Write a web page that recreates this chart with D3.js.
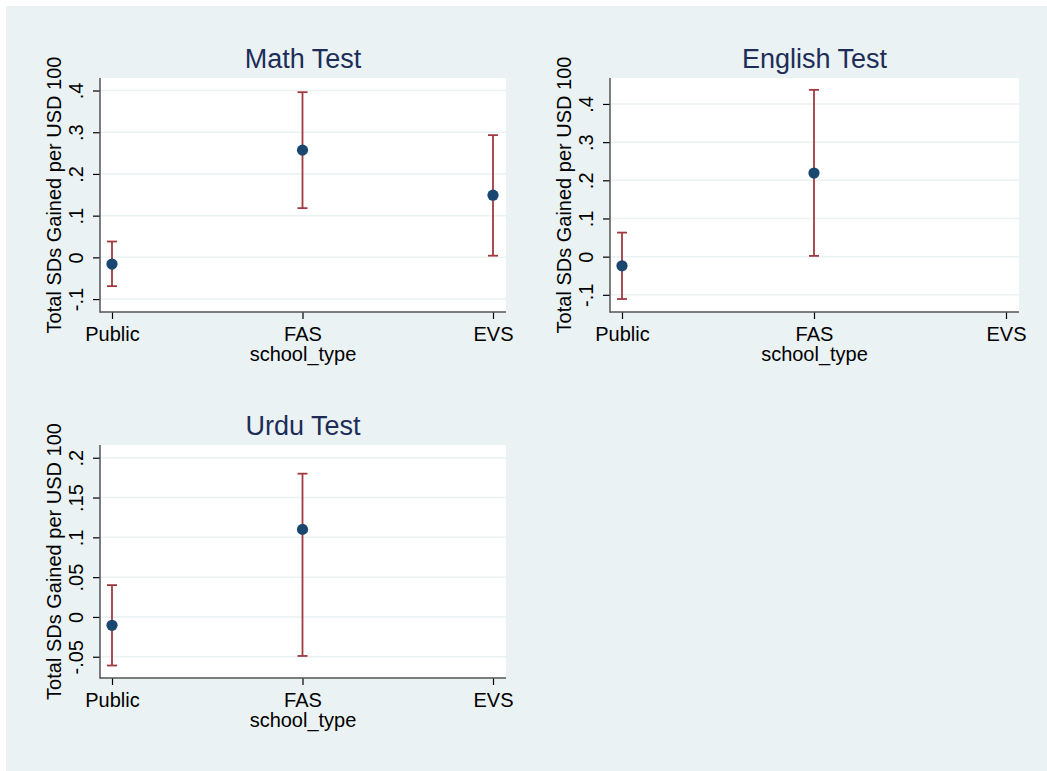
<!DOCTYPE html>
<html lang="en">
<meta charset="utf-8">
<style>
  body { margin: 0; background: #fff; }
  text { font-family: Arial, "Liberation Sans", Helvetica, sans-serif; }
</style>
<body>
<div id="my_dataviz"></div>

<script src="https://d3js.org/d3.v7.min.js" type="text/javascript"></script>

<script type="text/javascript">

// categories on the x axis
var schoolTypes = ["Public", "FAS", "EVS"]

// Math test: point estimate and 95% interval
var mathEst = [-0.016, 0.257, 0.149]
var mathLo  = [-0.069, 0.118, 0.004]
var mathHi  = [ 0.038, 0.396, 0.293]
var mathTicks = [-0.1, 0, 0.1, 0.2, 0.3, 0.4]

// English test (no EVS estimate)
var englishEst = [-0.024, 0.219]
var englishLo  = [-0.111, 0.002]
var englishHi  = [ 0.063, 0.437]
var englishTicks = [-0.1, 0, 0.1, 0.2, 0.3, 0.4]

// Urdu test (no EVS estimate)
var urduEst = [-0.0105, 0.110]
var urduLo  = [-0.061, -0.049]
var urduHi  = [ 0.040,  0.180]
var urduTicks = [-0.05, 0, 0.05, 0.1, 0.15, 0.2]

var width = 1047, height = 771;

var svg = d3.select("#my_dataviz")
.append("svg")
  .attr("width", width)
  .attr("height", height);

// graph region background
svg.append("rect")
  .attr("x", 6).attr("y", 6)
  .attr("width", width - 6).attr("height", height - 6)
  .attr("fill", "#eaf2f3");

var panels = [
  {title: "Math Test", est: mathEst, lo: mathLo, hi: mathHi, ticks: mathTicks,
   yDomain: [-0.131, 0.43], left: 100, right: 506, top: 78, bottom: 312},
  {title: "English Test", est: englishEst, lo: englishLo, hi: englishHi, ticks: englishTicks,
   yDomain: [-0.145, 0.468], left: 610, right: 1019, top: 78, bottom: 312},
  {title: "Urdu Test", est: urduEst, lo: urduLo, hi: urduHi, ticks: urduTicks,
   yDomain: [-0.0767, 0.216], left: 100, right: 506, top: 445, bottom: 678}
];

// stata style labels: .4, -.1, 0, .05
function fmt(d) {
  if (d === 0) return "0";
  return String(+d.toFixed(3)).replace("0.", ".");
}

panels.forEach(function(p) {
  var g = svg.append("g");

  var x = d3.scalePoint()
    .domain(schoolTypes)
    .range([p.left + 12, p.right - 13]);

  var y = d3.scaleLinear()
    .domain(p.yDomain)
    .range([p.bottom, p.top]);

  // plot region
  g.append("rect")
    .attr("x", p.left).attr("y", p.top)
    .attr("width", p.right - p.left).attr("height", p.bottom - p.top)
    .attr("fill", "#ffffff");

  // gridlines
  g.selectAll(".grid")
    .data(p.ticks)
    .enter()
    .append("line")
      .attr("x1", p.left).attr("x2", p.right)
      .attr("y1", function(d) { return y(d) })
      .attr("y2", function(d) { return y(d) })
      .attr("stroke", "#eaf2f3")
      .attr("stroke-width", 1.5);

  // y axis
  var yAxis = g.append("g")
    .attr("transform", "translate(" + p.left + ",0)")
    .call(d3.axisLeft(y).tickValues(p.ticks).tickFormat(fmt).tickSize(7).tickSizeOuter(0));
  yAxis.select(".domain").remove();
  yAxis.selectAll(".tick line").attr("stroke", "#000").attr("stroke-width", 1.2);
  yAxis.selectAll(".tick text")
    .attr("font-size", 20)
    .attr("fill", "#000")
    .attr("text-anchor", "middle")
    .attr("dy", null)
    .attr("x", null)
    .attr("transform", "translate(-17,0) rotate(-90)");

  // x axis
  var xAxis = g.append("g")
    .attr("transform", "translate(0," + p.bottom + ")")
    .call(d3.axisBottom(x).tickSize(7).tickSizeOuter(0));
  xAxis.select(".domain").remove();
  xAxis.selectAll(".tick line").attr("stroke", "#000").attr("stroke-width", 1.2);
  xAxis.selectAll(".tick text")
    .attr("font-size", 20)
    .attr("fill", "#000")
    .attr("dy", null)
    .attr("y", 29);

  // axis lines
  g.append("line")
    .attr("x1", p.left).attr("x2", p.left)
    .attr("y1", p.top).attr("y2", p.bottom + 0.75)
    .attr("stroke", "#555").attr("stroke-width", 1.5);
  g.append("line")
    .attr("x1", p.left).attr("x2", p.right)
    .attr("y1", p.bottom).attr("y2", p.bottom)
    .attr("stroke", "#555").attr("stroke-width", 1.5);

  // axis titles
  g.append("text")
    .attr("x", (p.left + p.right) / 2)
    .attr("y", p.bottom + 49)
    .attr("text-anchor", "middle")
    .attr("font-size", 20)
    .attr("fill", "#000")
    .text("school_type");

  g.append("text")
    .attr("transform", "translate(" + (p.left - 39) + "," + ((p.top + p.bottom) / 2) + ") rotate(-90)")
    .attr("text-anchor", "middle")
    .attr("font-size", 20)
    .attr("fill", "#000")
    .text("Total SDs Gained per USD 100");

  // panel title
  g.append("text")
    .attr("x", (p.left + p.right) / 2)
    .attr("y", p.top - 10)
    .attr("text-anchor", "middle")
    .attr("font-size", 27)
    .attr("fill", "#1e2d58")
    .text(p.title);

  var rows = p.est.map(function(v, i) {
    return {cat: schoolTypes[i], est: v, lo: p.lo[i], hi: p.hi[i]};
  });

  // error bars
  var bars = g.selectAll(".ci")
    .data(rows)
    .enter()
    .append("g");
  bars.append("line")
    .attr("x1", function(d) { return x(d.cat) })
    .attr("x2", function(d) { return x(d.cat) })
    .attr("y1", function(d) { return y(d.lo) })
    .attr("y2", function(d) { return y(d.hi) })
    .attr("stroke", "#a03a40").attr("stroke-width", 1.8);
  ["lo", "hi"].forEach(function(k) {
    bars.append("line")
      .attr("x1", function(d) { return x(d.cat) - 5 })
      .attr("x2", function(d) { return x(d.cat) + 5 })
      .attr("y1", function(d) { return y(d[k]) })
      .attr("y2", function(d) { return y(d[k]) })
      .attr("stroke", "#a03a40").attr("stroke-width", 1.8);
  });

  // point estimates
  g.selectAll(".pt")
    .data(rows)
    .enter()
    .append("circle")
      .attr("cx", function(d) { return x(d.cat) })
      .attr("cy", function(d) { return y(d.est) })
      .attr("r", 5.6)
      .attr("fill", "#1a476f");
});

</script>

</body>
</html>
